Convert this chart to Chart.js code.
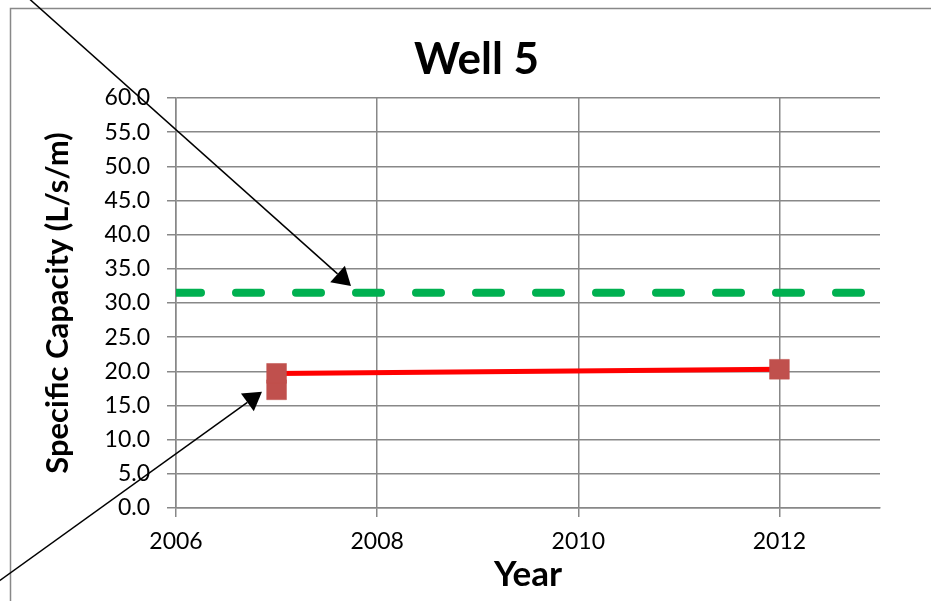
<!DOCTYPE html>
<html>
<head>
<meta charset="utf-8">
<title>Well 5</title>
<script src="https://cdn.jsdelivr.net/npm/chart.js@4/dist/chart.umd.min.js"></script>
<style>
  html, body { margin: 0; padding: 0; background: #fff; }
  #wrap { width: 931px; height: 601px; }
</style>
</head>
<body>
<div id="wrap"><canvas id="chart" width="931" height="601"></canvas></div>
<script>
// Measured specific capacity of Well 5
const measuredYears = [2007, 2007, 2012];
const measuredCapacity = [17.3, 19.7, 20.3];

// Reference level shown as a dashed line across the whole period
const referenceYears = [2006, 2013];
const referenceCapacity = [31.5, 31.5];

// Axis ranges and tick spacing
const yearRange = [2006, 2013];
const yearStep = 2;
const capacityRange = [0, 60];
const capacityStep = 5;

// Callout arrows: tip in data units (year, capacity), tail in canvas pixels
const arrowTips = [[2007.74, 32.5], [2006.855, 17.0]];
const arrowTails = [[25, -5], [-5, 584]];

const GRID = '#888888';

const frameAndArrows = {
  id: 'frameAndArrows',
  beforeDraw(chart) {
    const ctx = chart.ctx;
    ctx.save();
    ctx.fillStyle = '#ffffff';
    ctx.fillRect(0, 0, chart.width, chart.height);
    ctx.strokeStyle = GRID;
    ctx.lineWidth = 1.5;
    ctx.strokeRect(10.5, 8.5, chart.width + 20, chart.height + 20);
    ctx.restore();
  },
  afterDraw(chart) {
    const ctx = chart.ctx;
    const xs = chart.scales.x, ys = chart.scales.y;
    ctx.save();
    ctx.strokeStyle = '#000';
    ctx.fillStyle = '#000';
    ctx.lineWidth = 1.5;
    arrowTips.forEach((tip, i) => {
      const tx = xs.getPixelForValue(tip[0]);
      const ty = ys.getPixelForValue(tip[1]);
      const [sx, sy] = arrowTails[i];
      const ang = Math.atan2(ty - sy, tx - sx);
      const len = 18, half = 11;
      const bx = tx - len * Math.cos(ang), by = ty - len * Math.sin(ang);
      ctx.beginPath();
      ctx.moveTo(sx, sy);
      ctx.lineTo(bx, by);
      ctx.stroke();
      ctx.beginPath();
      ctx.moveTo(tx, ty);
      ctx.lineTo(bx + half * Math.sin(ang), by - half * Math.cos(ang));
      ctx.lineTo(bx - half * Math.sin(ang), by + half * Math.cos(ang));
      ctx.closePath();
      ctx.fill();
    });
    ctx.restore();
  }
};

Chart.defaults.font.family = 'Lato, "Open Sans", sans-serif';
Chart.defaults.color = '#000';

new Chart(document.getElementById('chart'), {
  type: 'scatter',
  data: {
    datasets: [
      {
        label: 'Reference',
        data: referenceYears.map((x, i) => ({ x, y: referenceCapacity[i] })),
        showLine: true,
        borderColor: '#00B050',
        borderWidth: 8,
        borderDash: [25, 35],
        borderCapStyle: 'round',
        pointRadius: 0,
        clip: 0
      },
      {
        label: 'Measured',
        data: measuredYears.map((x, i) => ({ x, y: measuredCapacity[i] })),
        showLine: true,
        borderColor: '#FF0000',
        borderWidth: 5,
        pointStyle: 'rect',
        pointRadius: 14,
        pointBackgroundColor: '#C0504D',
        pointBorderColor: '#C0504D',
        pointBorderWidth: 0.5,
        clip: 20
      }
    ]
  },
  options: {
    responsive: false,
    animation: false,
    events: [],
    layout: { padding: { left: 73, right: 51, top: 10, bottom: 0 } },
    plugins: {
      legend: { display: false },
      tooltip: { enabled: false },
      title: {
        display: true,
        text: 'Well 5',
        font: { size: 44, weight: 'bold' },
        color: '#000',
        padding: { top: 23.6, bottom: 11.6 }
      }
    },
    scales: {
      x: {
        type: 'linear',
        min: yearRange[0],
        max: yearRange[1],
        afterFit(scale) { scale.height = 93; },
        ticks: {
          stepSize: yearStep,
          includeBounds: false,
          padding: 11,
          maxRotation: 0,
          font: { size: 23 },
          color: '#000',
          callback: v => String(v)
        },
        grid: { color: GRID, lineWidth: 1.5, tickLength: 9 },
        border: { color: GRID, width: 1.5 },
        title: {
          display: true,
          text: 'Year',
          font: { size: 35, weight: 'bold' },
          color: '#000',
          padding: { top: 0, bottom: 5 }
        }
      },
      y: {
        type: 'linear',
        min: capacityRange[0],
        max: capacityRange[1],
        afterFit(scale) { scale.width = 103; },
        ticks: {
          stepSize: capacityStep,
          padding: 17,
          font: { size: 23 },
          color: '#000',
          callback: v => v.toFixed(1)
        },
        grid: { color: GRID, lineWidth: 1.5, tickLength: 9 },
        border: { color: GRID, width: 1.5 },
        title: {
          display: true,
          text: 'Specific Capacity (L/s/m)',
          font: { size: 31, weight: 'bold' },
          color: '#000',
          padding: { top: -34, bottom: 0 }
        }
      }
    }
  },
  plugins: [frameAndArrows]
});
</script>
</body>
</html>
